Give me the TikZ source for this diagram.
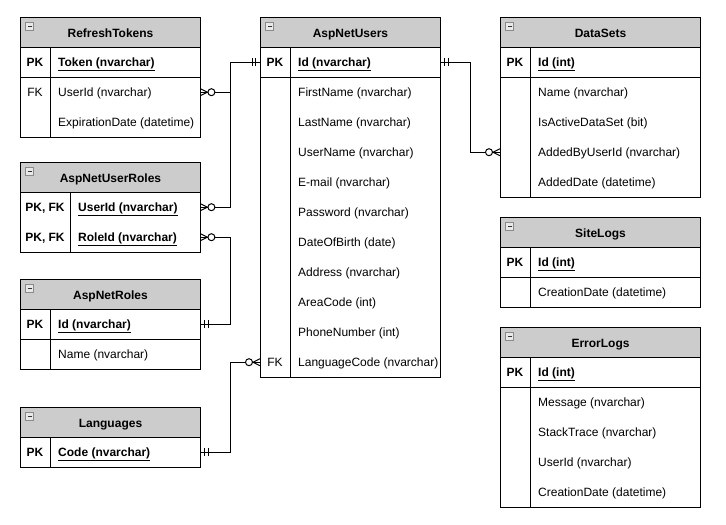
\documentclass[tikz,border=0pt]{standalone}
\usepackage{fontspec}
\setmainfont{Liberation Sans}
\usetikzlibrary{calc}
\definecolor{hdrgray}{RGB}{204,204,204}
\definecolor{icongray}{RGB}{138,138,138}
\definecolor{iconfill}{RGB}{232,232,232}
\tikzset{
  basefont/.style={font=\fontsize{12}{14}\selectfont, text height=12, text depth=3},
  hdr/.style={draw, fill=hdrgray, line width=1pt, minimum height=30, minimum width=#1,
    anchor=north west, inner sep=0, text height=12, text depth=3,
    font=\fontsize{12}{14}\selectfont\bfseries},
  rowbox/.style={minimum height=30, anchor=north west, inner sep=0},
  keytxt/.style={anchor=center, inner sep=0, basefont},
  fldtxt/.style={anchor=west, inner sep=0, basefont},
  tbl/.style={line width=1pt},
  conn/.style={line width=1pt},
  iconbox/.style={draw=icongray, fill=iconfill, line width=1pt},
  iconbar/.style={draw=black!80, line width=1.4pt},
  erone/.pic={\draw[conn] (4.5,-4) -- (4.5,4) (8,-4) -- (8,4);},
  ermany/.pic={\draw[conn] (0,-3.5) -- (7,0) -- (0,3.5); \draw[conn, fill=white] (11,0) circle (3.5);}
}
\newcommand{\erhead}[4]{%
  \node[hdr=#3] (#1) at #2 {#4};
  \draw[iconbox] ([shift={(5.5,5.5)}]#1.north west) rectangle ++(8,8);
  \draw[iconbar] ([shift={(7.5,9.5)}]#1.north west) -- ++(4,0);
}
\newcommand{\ersect}[5]{%
  \draw[tbl] (#1,#2) rectangle (#1+#4,#3);
  \draw[tbl] (#1+#5,#2) -- (#1+#5,#3);
}
\newcommand{\errow}[7]{%
  \node[rowbox, minimum width=#4] (#1) at (#2,#3) {};
  \node[keytxt] at ([xshift=#5/2]#1.west) {#6};
  \node[fldtxt] at ([xshift=#5+8]#1.west) {#7};
}
\newcommand{\pkf}[1]{\underline{\textbf{#1}}}
\begin{document}
\begin{tikzpicture}[x=1pt,y=-1pt]
\useasboundingbox[fill=white] (0,0) rectangle (726,525);

% RefreshTokens
\erhead{rt}{(20,17)}{180}{RefreshTokens}
\ersect{20}{47}{77}{180}{30}
\ersect{20}{77}{137}{180}{30}
\errow{rt-token}{20}{47}{180}{30}{\textbf{PK}}{\pkf{Token (nvarchar)}}
\errow{rt-userid}{20}{77}{180}{30}{FK}{UserId (nvarchar)}
\errow{rt-exp}{20}{107}{180}{30}{}{ExpirationDate (datetime)}

% AspNetUserRoles
\erhead{ur}{(20,162)}{180}{AspNetUserRoles}
\ersect{20}{192}{252}{180}{50}
\errow{ur-userid}{20}{192}{180}{50}{\textbf{PK, FK}}{\pkf{UserId (nvarchar)}}
\errow{ur-roleid}{20}{222}{180}{50}{\textbf{PK, FK}}{\pkf{RoleId (nvarchar)}}

% AspNetRoles
\erhead{ro}{(20,279)}{180}{AspNetRoles}
\ersect{20}{309}{339}{180}{30}
\ersect{20}{339}{369}{180}{30}
\errow{ro-id}{20}{309}{180}{30}{\textbf{PK}}{\pkf{Id (nvarchar)}}
\errow{ro-name}{20}{339}{180}{30}{}{Name (nvarchar)}

% Languages
\erhead{la}{(20,407)}{180}{Languages}
\ersect{20}{437}{467}{180}{30}
\errow{la-code}{20}{437}{180}{30}{\textbf{PK}}{\pkf{Code (nvarchar)}}

% AspNetUsers
\erhead{us}{(260,17)}{180}{AspNetUsers}
\ersect{260}{47}{77}{180}{30}
\ersect{260}{77}{377}{180}{30}
\errow{us-id}{260}{47}{180}{30}{\textbf{PK}}{\pkf{Id (nvarchar)}}
\errow{us-first}{260}{77}{180}{30}{}{FirstName (nvarchar)}
\errow{us-last}{260}{107}{180}{30}{}{LastName (nvarchar)}
\errow{us-user}{260}{137}{180}{30}{}{UserName (nvarchar)}
\errow{us-mail}{260}{167}{180}{30}{}{E-mail (nvarchar)}
\errow{us-pass}{260}{197}{180}{30}{}{Password (nvarchar)}
\errow{us-dob}{260}{227}{180}{30}{}{DateOfBirth (date)}
\errow{us-addr}{260}{257}{180}{30}{}{Address (nvarchar)}
\errow{us-area}{260}{287}{180}{30}{}{AreaCode (int)}
\errow{us-phone}{260}{317}{180}{30}{}{PhoneNumber (int)}
\errow{us-lang}{260}{347}{180}{30}{FK}{LanguageCode (nvarchar)}

% DataSets
\erhead{ds}{(500,17)}{200}{DataSets}
\ersect{500}{47}{77}{200}{30}
\ersect{500}{77}{197}{200}{30}
\errow{ds-id}{500}{47}{200}{30}{\textbf{PK}}{\pkf{Id (int)}}
\errow{ds-name}{500}{77}{200}{30}{}{Name (nvarchar)}
\errow{ds-active}{500}{107}{200}{30}{}{IsActiveDataSet (bit)}
\errow{ds-added}{500}{137}{200}{30}{}{AddedByUserId (nvarchar)}
\errow{ds-date}{500}{167}{200}{30}{}{AddedDate (datetime)}

% SiteLogs
\erhead{sl}{(500,217)}{200}{SiteLogs}
\ersect{500}{247}{277}{200}{30}
\ersect{500}{277}{307}{200}{30}
\errow{sl-id}{500}{247}{200}{30}{\textbf{PK}}{\pkf{Id (int)}}
\errow{sl-date}{500}{277}{200}{30}{}{CreationDate (datetime)}

% ErrorLogs
\erhead{el}{(500,327)}{200}{ErrorLogs}
\ersect{500}{357}{387}{200}{30}
\ersect{500}{387}{507}{200}{30}
\errow{el-id}{500}{357}{200}{30}{\textbf{PK}}{\pkf{Id (int)}}
\errow{el-msg}{500}{387}{200}{30}{}{Message (nvarchar)}
\errow{el-trace}{500}{417}{200}{30}{}{StackTrace (nvarchar)}
\errow{el-user}{500}{447}{200}{30}{}{UserId (nvarchar)}
\errow{el-date}{500}{477}{200}{30}{}{CreationDate (datetime)}

% connectors
\draw[conn] (us-id.west) -- ++(-30,0) |- (rt-userid.east);
\draw[conn] (us-id.west) -- ++(-30,0) |- (ur-userid.east);
\draw[conn] (ro-id.east) -- ++(30,0) |- (ur-roleid.east);
\draw[conn] (la-code.east) -- ++(30,0) |- (us-lang.west);
\draw[conn] (us-id.east) -- ++(30,0) |- (ds-added.west);

% end marks
\pic[xscale=-1] at (us-id.west) {erone};
\pic at (us-id.east) {erone};
\pic at (ro-id.east) {erone};
\pic at (la-code.east) {erone};
\pic at (rt-userid.east) {ermany};
\pic at (ur-userid.east) {ermany};
\pic at (ur-roleid.east) {ermany};
\pic[xscale=-1] at (us-lang.west) {ermany};
\pic[xscale=-1] at (ds-added.west) {ermany};
\end{tikzpicture}
\end{document}
